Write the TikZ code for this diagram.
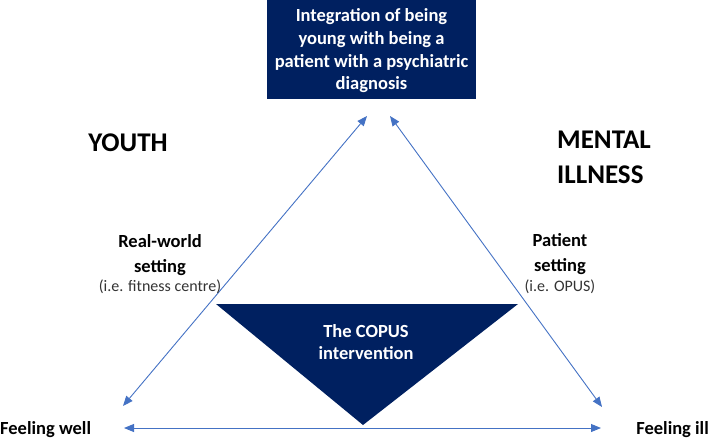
\documentclass[tikz,border=0pt]{standalone}
\usepackage{fontspec}
\setmainfont{Carlito}
\usetikzlibrary{arrows.meta}
\definecolor{navy}{HTML}{002060}
\definecolor{arrowblue}{HTML}{4472C4}
\begin{document}
\begin{tikzpicture}[x=1pt,y=-1pt,
  conn/.style={draw=arrowblue,line width=0.9pt,{Triangle[length=10pt,width=8pt]}-{Triangle[length=10pt,width=8pt]}},
  big/.style={font=\bfseries\fontsize{27}{35}\selectfont,align=left,inner sep=0pt},
  lab/.style={font=\bfseries\fontsize{18.5}{25}\selectfont,align=center,inner sep=0pt},
  sub/.style={font=\fontsize{16}{18}\selectfont,text=black!80,inner sep=0pt},
  whitetxt/.style={text=white,font=\bfseries\fontsize{18.5}{22.7}\selectfont,align=center,inner sep=0pt}]
\useasboundingbox (0,0) rectangle (709,442);
% top box
\node[fill=navy,minimum width=209pt,minimum height=99pt,inner sep=0pt] (box) at (371.5,49.5) {};
\node[whitetxt] (boxtxt) at (371.5,51) {Integration of being\\young with being a\\patient with a psychiatric\\diagnosis};
% triangle
\coordinate (tl) at (216,304);
\coordinate (tr) at (518,304);
\coordinate (tb) at (363,425);
\fill[navy] (tl) -- (tr) -- (tb) -- cycle;
\node[whitetxt] (copus) at (366,342) {The COPUS\\intervention};
% arrow ends
\coordinate (topL) at (367,116);
\coordinate (topR) at (390,116);
\coordinate (botL) at (123,406);
\coordinate (botR) at (602,407);
\coordinate (wellE) at (124,428);
\coordinate (illE) at (601,428);
\draw[conn] (topL) -- (botL);
\draw[conn] (topR) -- (botR);
\draw[conn] (wellE) -- (illE);
% labels
\node[big] (youth) at (128,143) {YOUTH};
\node[big,anchor=west] (mental) at (557,157) {MENTAL\\ILLNESS};
\node[lab] (rw) at (160,255) {Real-world\\setting};
\node[sub] (rwsub) at (160,287) {(i.e. fitness centre)};
\node[lab] (pat) at (560,254) {Patient\\setting};
\node[sub] (patsub) at (560,287) {(i.e. OPUS)};
\node[font=\bfseries\fontsize{18.5}{22}\selectfont,anchor=west,inner sep=0pt] (well) at (0,430) {Feeling well};
\node[font=\bfseries\fontsize{18.5}{22}\selectfont,anchor=east,inner sep=0pt] (ill) at (709,430) {Feeling ill};
\end{tikzpicture}
\end{document}
